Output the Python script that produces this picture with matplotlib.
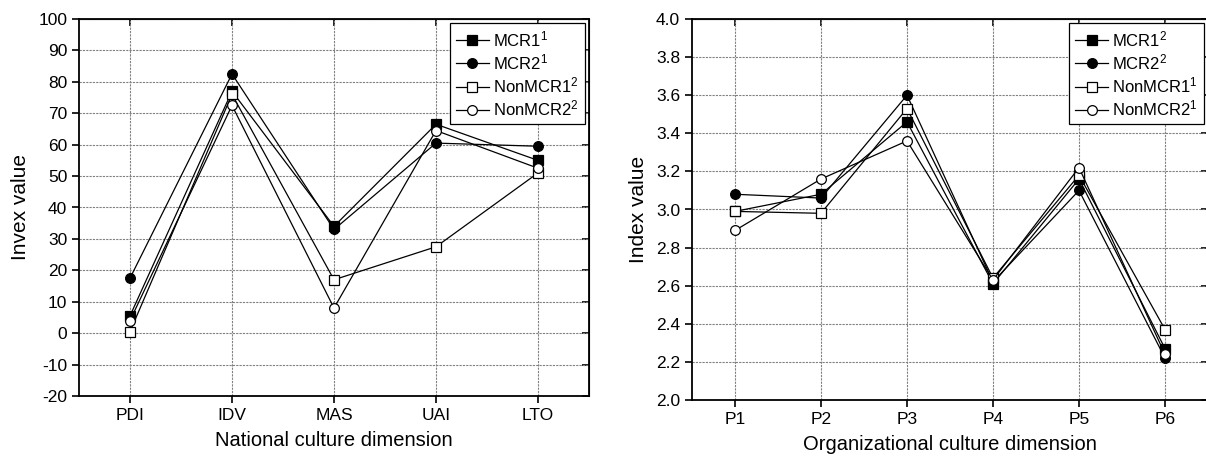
import matplotlib
matplotlib.use('Agg')
import matplotlib.pyplot as plt

# national culture (left panel)
nat_dims = ['PDI', 'IDV', 'MAS', 'UAI', 'LTO']
nat_mcr1 = [5.5, 77, 34, 66.5, 55]
nat_mcr2 = [17.5, 82.5, 33, 60.5, 59.5]
nat_non1 = [0.5, 76, 17, 27.5, 51]
nat_non2 = [4, 72.5, 8, 64.5, 52.5]
nat_labels = ['MCR1$^1$', 'MCR2$^1$', 'NonMCR1$^2$', 'NonMCR2$^2$']

# organizational culture (right panel)
org_dims = ['P1', 'P2', 'P3', 'P4', 'P5', 'P6']
org_mcr1 = [2.99, 3.08, 3.46, 2.61, 3.16, 2.27]
org_mcr2 = [3.08, 3.06, 3.60, 2.62, 3.10, 2.22]
org_non1 = [2.99, 2.98, 3.53, 2.64, 3.18, 2.37]
org_non2 = [2.89, 3.16, 3.36, 2.63, 3.22, 2.24]
org_labels = ['MCR1$^2$', 'MCR2$^2$', 'NonMCR1$^1$', 'NonMCR2$^1$']

plt.rcParams['font.family'] = ['Liberation Sans', 'DejaVu Sans']
plt.rcParams['mathtext.default'] = 'regular'
plt.rcParams['axes.unicode_minus'] = False

styles = [dict(marker='s', mfc='black'), dict(marker='o', mfc='black'),
          dict(marker='s', mfc='white'), dict(marker='o', mfc='white')]


def draw(ax, dims, series, labels):
    x = list(range(1, len(dims) + 1))
    for ys, lab, st in zip(series, labels, styles):
        ax.plot(x, ys, color='black', lw=0.9, ms=7, mec='black', mew=0.9,
                label=lab, **st)
    ax.set_xticks(x)
    ax.set_xticklabels(dims)
    ax.set_xlim(0.5, len(dims) + 0.5)
    ax.grid(True, color='gray', ls=(0, (2, 1)), lw=0.8)
    ax.tick_params(axis='both', which='major', direction='out', length=5,
                   width=1.2, labelsize=12.5)
    for s in ax.spines.values():
        s.set_linewidth(1.3)
    # inward ticks on top and right
    top = ax.secondary_xaxis('top')
    top.set_xticks(x)
    top.tick_params(direction='in', length=5, width=1.2, labeltop=False)
    right = ax.secondary_yaxis('right')
    right.set_yticks(ax.get_yticks())
    right.tick_params(direction='in', length=5, width=1.2, labelright=False)
    leg = ax.legend(loc='upper right', fontsize=12, fancybox=False,
                    framealpha=1, edgecolor='black', borderaxespad=0.25,
                    handlelength=2.0, handletextpad=0.25, labelspacing=0.2,
                    borderpad=0.35)
    leg.get_frame().set_linewidth(0.9)


fig = plt.figure(figsize=(12.06, 4.61), dpi=100)

ax1 = fig.add_axes([79 / 1206, 1 - 396 / 461, 510 / 1206, 377 / 461])
ax1.set_ylim(-20, 100)
ax1.set_yticks(range(-20, 101, 10))
draw(ax1, nat_dims, [nat_mcr1, nat_mcr2, nat_non1, nat_non2], nat_labels)
ax1.set_xlabel('National culture dimension', fontsize=14.5, labelpad=6)
ax1.set_ylabel('Invex value', fontsize=15, labelpad=6)

ax2 = fig.add_axes([692 / 1206, 1 - 400 / 461, 516 / 1206, 381 / 461])
ax2.set_ylim(2.0, 4.0)
ax2.set_yticks([2.0 + 0.2 * i for i in range(11)])
ax2.set_yticklabels(['%.1f' % (2.0 + 0.2 * i) for i in range(11)])
draw(ax2, org_dims, [org_mcr1, org_mcr2, org_non1, org_non2], org_labels)
ax2.set_xlabel('Organizational culture dimension', fontsize=14.5, labelpad=6)
ax2.set_ylabel('Index value', fontsize=15, labelpad=6)

fig.savefig('out.png', dpi=100)
